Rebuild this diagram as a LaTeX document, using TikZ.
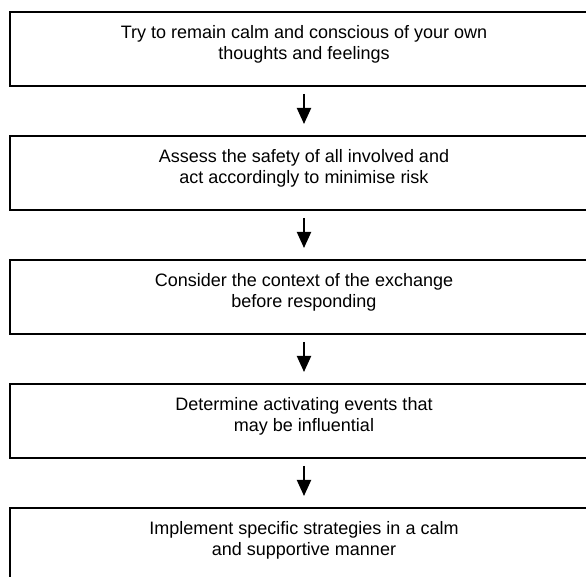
\documentclass[tikz,border=0pt]{standalone}
\usepackage{fontspec}
\setmainfont{Liberation Sans}
\usetikzlibrary{arrows.meta,positioning}
\tikzset{
  stp/.style={rectangle,draw=black,line width=1pt,minimum width=294pt,minimum height=37pt,inner sep=0pt},
  stt/.style={font=\fontsize{9pt}{10.5pt}\selectfont,align=center,inner sep=0pt},
  flw/.style={-{Triangle[length=8pt,width=7pt]},line width=1pt,draw=black,shorten <=3.5pt,shorten >=5.5pt},
}
\begin{document}
\begin{tikzpicture}[x=0.5pt,y=-0.5pt]
\useasboundingbox (0,0) rectangle (586,577);
\clip (0,0) rectangle (586,577);
% the five steps, top to bottom; the boxes run off the right and lower edges
\node[stp] (s1) at (304,49) {};
\node[stp] (s2) at (304,173) {};
\node[stp] (s3) at (304,297) {};
\node[stp] (s4) at (304,421) {};
\node[stp] (s5) at (304,545) {};
% their texts, set high in each box
\node[stt,below=7pt of s1.north] (t1) {Try to remain calm and conscious of your own\\thoughts and feelings};
\node[stt,below=7pt of s2.north] (t2) {Assess the safety of all involved and\\act accordingly to minimise risk};
\node[stt,below=7pt of s3.north] (t3) {Consider the context of the exchange\\before responding};
\node[stt,below=7pt of s4.north] (t4) {Determine activating events that\\may be influential};
\node[stt,below=7pt of s5.north] (t5) {Implement specific strategies in a calm\\and supportive manner};
% one arrow from each step to the next
\draw[flw] (s1) -- (s2);
\draw[flw] (s2) -- (s3);
\draw[flw] (s3) -- (s4);
\draw[flw] (s4) -- (s5);
\end{tikzpicture}
\end{document}
